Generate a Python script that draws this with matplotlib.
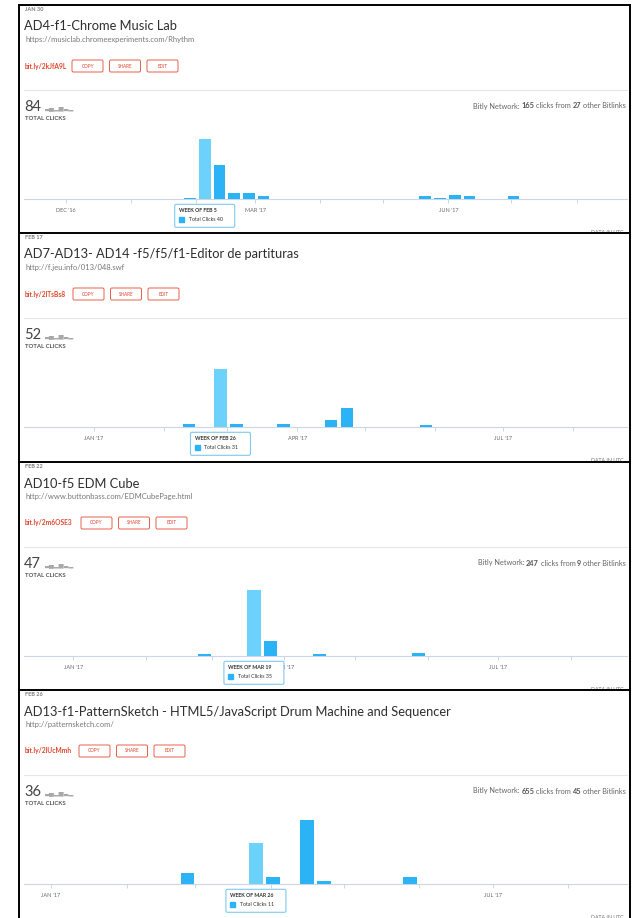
import datetime as dt
import matplotlib
matplotlib.use("Agg")
import matplotlib.pyplot as plt
import matplotlib.dates as mdates
from matplotlib.patches import Rectangle, FancyBboxPatch

plt.rcParams['font.family'] = ['Lato', 'DejaVu Sans']

# ---------------- data ----------------
created = ['JAN 30', 'FEB 17', 'FEB 22', 'FEB 26']
titles = ['AD4-f1-Chrome Music Lab',
          'AD7-AD13- AD14 -f5/f5/f1-Editor de partituras',
          'AD10-f5 EDM Cube',
          'AD13-f1-PatternSketch - HTML5/JavaScript Drum Machine and Sequencer']
urls = ['https://musiclab.chromeexperiments.com/Rhythm',
        'http://f.jeu.info/013/048.swf',
        'http://www.buttonbass.com/EDMCubePage.html',
        'http://patternsketch.com/']
short_links = ['bit.ly/2kJfA9L', 'bit.ly/2lTsBs8', 'bit.ly/2m6OSE3', 'bit.ly/2lUcMmh']
network_clicks = [165, None, 247, 655]
network_links = [27, None, 9, 45]

p1_weeks = ['2017-01-29', '2017-02-05', '2017-02-12', '2017-02-19', '2017-02-26', '2017-03-05',
            '2017-05-21', '2017-05-28', '2017-06-04', '2017-06-11', '2017-07-02']
p1_clicks = [1, 40, 23, 4, 4, 2, 2, 1, 3, 2, 2]
p2_weeks = ['2017-02-12', '2017-02-26', '2017-03-05', '2017-03-26', '2017-04-16', '2017-04-23', '2017-05-28']
p2_clicks = [2, 31, 2, 2, 4, 10, 1]
p3_weeks = ['2017-02-26', '2017-03-19', '2017-03-26', '2017-04-16', '2017-05-28']
p3_clicks = [1, 35, 8, 1, 2]
p4_weeks = ['2017-02-26', '2017-03-26', '2017-04-02', '2017-04-16', '2017-04-23', '2017-05-28']
p4_clicks = [3, 11, 2, 17, 1, 2]
hovered = [1, 1, 1, 1]  # index of the highlighted week in each panel

weeks_all = [p1_weeks, p2_weeks, p3_weeks, p4_weeks]
clicks_all = [p1_clicks, p2_clicks, p3_clicks, p4_clicks]

# ---------------- layout ----------------
view_start = ['2016-11-11', '2016-12-01', '2016-12-11', '2016-12-21']
view_end = '2017-08-25'
y_max = [49.75, 39.6, 39.6, 19.8]
label_first_month = [12, 1, 1, 1]
btn_x = [72, 73, 81, 79]

W, H = 637, 918
LEFT, RIGHT = 18.5, 629.5
panel_tops = [5, 233, 462, 690]
panel_bottoms = [233, 462, 690, 918]
BAR_COLOR = '#2cb3f6'
HOVER_COLOR = '#6cd1fb'
RED = '#e0452f'

def D(s):
    return dt.datetime.strptime(s, '%Y-%m-%d')

def rect(x0, y0, x1, y1):
    return [x0 / W, 1 - y1 / H, (x1 - x0) / W, (y1 - y0) / H]

fig = plt.figure(figsize=(W / 100, H / 100), dpi=100)
fig.patch.set_facecolor('white')

ov = fig.add_axes([0, 0, 1, 1], zorder=5)
ov.set_xlim(0, W)
ov.set_ylim(H, 0)
ov.axis('off')

for i in range(4):
    top, bot = panel_tops[i], panel_bottoms[i]
    # panel axes (for clipped footer text)
    pax = fig.add_axes(rect(LEFT, top, RIGHT, bot), zorder=0)
    pax.set_xlim(LEFT, RIGHT)
    pax.set_ylim(bot, top)
    pax.axis('off')
    pax.text(624, top + 227.5, 'DATA IN UTC', ha='right', va='center', fontsize=3.8,
             color='#777777', clip_on=True)

    # header
    ov.text(25, top + 4.7, created[i], ha='left', va='center', fontsize=4.0,
            color='#7a7a7a', fontweight='bold')
    ov.text(24, top + 21.5, titles[i], ha='left', va='center', fontsize=9.3, color='#2e2e2e')
    ov.text(25, top + 34.5, urls[i], ha='left', va='center', fontsize=5.5, color='#777777')
    ov.text(25, top + 61, short_links[i], ha='left', va='center', fontsize=4.8,
            color=RED, fontweight='bold')
    for k, lab in enumerate(['COPY', 'SHARE', 'EDIT']):
        x0 = btn_x[i] + [0, 37.5, 75][k]
        ov.add_patch(FancyBboxPatch((x0, top + 55), 31, 12,
                                    boxstyle='round,pad=0,rounding_size=1.5',
                                    fc='white', ec='#e8604a', lw=0.7))
        ov.text(x0 + 15.5, top + 61, lab, ha='center', va='center', fontsize=3.3, color=RED)
    ov.plot([24, 627], [top + 85, top + 85], color='#e6e6e6', lw=0.8)

    total = sum(clicks_all[i])
    num = ov.text(24, top + 102, str(total), ha='left', va='center', fontsize=10.5, color='#444444')
    ov.annotate('\u2583\u2585\u2582\u2586\u2583\u2582', xy=(1, 0.2), xycoords=num, xytext=(2, 0),
                textcoords='offset points', ha='left', va='bottom', fontsize=4.6, color='#a8a8a8')
    ov.text(25, top + 113.5, 'TOTAL CLICKS', ha='left', va='center', fontsize=4.3,
            color='#555555', fontweight='bold')

    if network_clicks[i] is not None:
        pieces = ['Bitly Network:', str(network_clicks[i]), 'clicks from',
                  str(network_links[i]), 'other Bitlinks']
        weights = ['normal', 'bold', 'normal', 'bold', 'normal']
        t = ov.text(626, top + 101, pieces[-1], ha='right', va='center', fontsize=5.3,
                    color='#666666', fontweight=weights[-1])
        for p, wgt in zip(reversed(pieces[:-1]), reversed(weights[:-1])):
            t = ov.annotate(p, xy=(0, 0.5), xycoords=t, xytext=(-1.3, 0),
                            textcoords='offset points', ha='right', va='center',
                            fontsize=5.3, color='#555555' if wgt == 'bold' else '#666666',
                            fontweight=wgt)

    # chart
    base = top + 194.3
    ax = fig.add_axes(rect(24, base - 75, 627, base), zorder=2)
    ax.patch.set_alpha(0)
    x0d, x1d = D(view_start[i]), D(view_end)
    ax.set_xlim(mdates.date2num(x0d), mdates.date2num(x1d))
    ax.set_ylim(0, y_max[i])
    xs = mdates.date2num([D(s) for s in weeks_all[i]])
    cols = [HOVER_COLOR if j == hovered[i] else BAR_COLOR for j in range(len(xs))]
    ax.bar(xs, clicks_all[i], width=5.6, color=cols, align='center', zorder=3)

    months = []
    y, m = x0d.year, x0d.month
    while True:
        m += 1
        if m > 12:
            m, y = 1, y + 1
        md = dt.datetime(y, m, 1)
        if md > x1d:
            break
        months.append(md)
    labels = [f"{md.strftime('%b').upper()} '{md.strftime('%y')}"
              if (md.month - label_first_month[i]) % 3 == 0 else '' for md in months]
    ax.set_xticks(mdates.date2num(months))
    ax.set_xticklabels(labels)
    ax.tick_params(axis='x', length=3, width=0.7, color='#ccd6eb', labelsize=4.0,
                   labelcolor='#666666', pad=3.4)
    ax.set_yticks([])
    for s in ['top', 'left', 'right']:
        ax.spines[s].set_visible(False)
    ax.spines['bottom'].set_color('#ccd6eb')
    ax.spines['bottom'].set_linewidth(0.8)

    # tooltip
    hx = xs[hovered[i]]
    xc = ax.transData.transform((hx, 0))[0]
    tl, tt = xc - 30, base + 5
    ov.add_patch(FancyBboxPatch((tl, tt), 60, 23, boxstyle='round,pad=0,rounding_size=1.5',
                                fc='white', ec='#80c9ee', lw=0.8, zorder=6))
    wk = D(weeks_all[i][hovered[i]])
    ov.text(tl + 4.5, tt + 6.3, f"WEEK OF {wk.strftime('%b').upper()} {wk.day}", ha='left',
            va='center', fontsize=3.8, color='#333333', fontweight='bold', zorder=7)
    ov.add_patch(Rectangle((tl + 4.5, tt + 12.2), 5, 5, color=BAR_COLOR, zorder=7))
    ov.text(tl + 14, tt + 14.8, f"Total Clicks {clicks_all[i][hovered[i]]}", ha='left',
            va='center', fontsize=3.8, color='#333333', zorder=7)

# borders
for yb in panel_tops[1:] + [panel_tops[0]]:
    ov.plot([LEFT, RIGHT], [yb, yb], color='black', lw=1.4, solid_capstyle='projecting', zorder=8)
for xb in [LEFT, RIGHT]:
    ov.plot([xb, xb], [panel_tops[0], H + 2], color='black', lw=1.4,
            solid_capstyle='projecting', zorder=8)

fig.savefig('out.png', dpi=100)
